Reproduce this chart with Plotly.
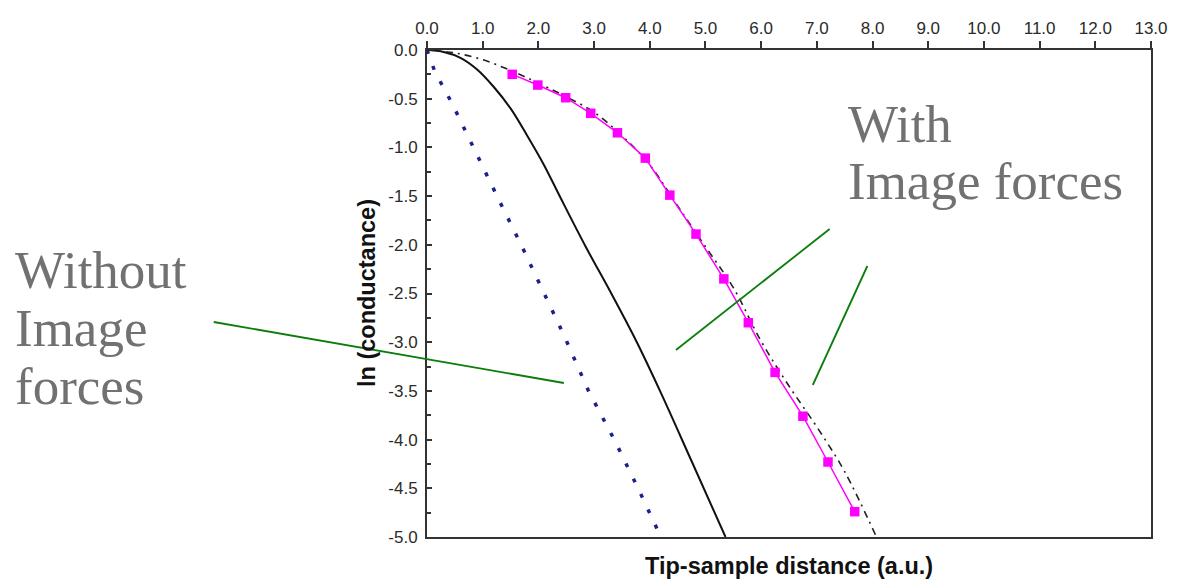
import plotly.graph_objects as go

# Tunnelling conductance versus tip-sample distance
# Without image forces (dotted navy line)
x_without = [0.0, 0.14, 0.46, 0.91, 1.30, 1.69, 2.07, 2.46, 2.90, 3.38, 3.79, 4.20]
y_without = [0.0, -0.22, -0.56, -1.10, -1.55, -2.00, -2.46, -2.93, -3.50, -4.02, -4.50, -5.00]

# Reference curve (solid black)
x_solid = [0.0, 0.3, 0.6, 0.9, 1.2, 1.5, 1.8, 2.1, 2.4, 2.85, 3.3, 3.75, 4.2, 4.75, 5.36]
y_solid = [0.0, -0.02, -0.08, -0.20, -0.38, -0.60, -0.88, -1.18, -1.52, -2.02, -2.49, -2.98,
           -3.52, -4.22, -5.00]

# With image forces, analytic approximation (dash-dot black)
x_dashdot = [0.0, 0.5, 1.0, 1.5, 2.0, 2.5, 3.0, 3.5, 4.0, 4.5, 5.0, 5.5, 6.0, 6.5, 7.0, 7.5, 8.07]
y_dashdot = [0.0, -0.03, -0.10, -0.21, -0.34, -0.48, -0.64, -0.88, -1.18, -1.60, -2.02, -2.44,
             -2.99, -3.45, -3.87, -4.33, -5.00]

# With image forces, computed points (magenta squares)
x_points = [1.53, 1.99, 2.49, 2.94, 3.42, 3.92, 4.36, 4.83, 5.33, 5.77, 6.25, 6.75, 7.20, 7.68]
y_points = [-0.25, -0.36, -0.49, -0.65, -0.85, -1.11, -1.49, -1.89, -2.35, -2.80, -3.31, -3.76,
            -4.23, -4.74]

# Tick labels
x_tickvals = [0, 1, 2, 3, 4, 5, 6, 7, 8, 9, 10, 11, 12, 13]
x_ticktext = ["0.0", "1.0", "2.0", "3.0", "4.0", "5.0", "6.0", "7.0", "8.0", "9.0",
              "10.0", "11.0", "12.0", "13.0"]
y_tickvals = [0, -0.5, -1, -1.5, -2, -2.5, -3, -3.5, -4, -4.5, -5]
y_ticktext = ["0.0", "-0.5", "-1.0", "-1.5", "-2.0", "-2.5", "-3.0", "-3.5", "-4.0", "-4.5", "-5.0"]

fig = go.Figure()

fig.add_trace(go.Scatter(x=x_without, y=y_without, mode="lines",
                         line=dict(color="#1c2088", width=3.5, dash="4px,13px")))
fig.add_trace(go.Scatter(x=x_solid, y=y_solid, mode="lines", line_shape="spline",
                         line=dict(color="#111111", width=2)))
fig.add_trace(go.Scatter(x=x_dashdot, y=y_dashdot, mode="lines", line_shape="spline",
                         line=dict(color="#222222", width=1.6, dash="7px,5px,2px,5px")))
fig.add_trace(go.Scatter(x=x_points, y=y_points, mode="lines+markers",
                         line=dict(color="#ff00ff", width=1.5),
                         marker=dict(symbol="square", size=9.5, color="#ff00ff")))

axis_font = dict(family="Liberation Sans, Arial, sans-serif", size=17, color="#2a2a2a")
title_font = dict(family="Liberation Sans, Arial, sans-serif", size=23.5, color="#111111")

fig.update_xaxes(range=[0, 13], side="top", tickmode="array", tickvals=x_tickvals,
                 ticktext=x_ticktext, ticks="outside", ticklen=7, tickwidth=2,
                 tickcolor="#333333", showline=True, linecolor="#333333", linewidth=2,
                 mirror=True, showgrid=False, zeroline=False, tickfont=axis_font)
fig.update_yaxes(range=[-5, 0], tickmode="array", tickvals=y_tickvals, ticktext=y_ticktext,
                 ticks="inside", ticklen=5, tickwidth=2, tickcolor="#333333",
                 minor=dict(tickmode="linear", tick0=0, dtick=0.25, ticks="inside",
                            ticklen=4, tickwidth=1.5, tickcolor="#333333"),
                 showline=True, linecolor="#333333", linewidth=2, mirror=True,
                 showgrid=False, zeroline=False, tickfont=axis_font, ticklabelstandoff=4)

L, R, T, B = 427, 23, 50, 44
W, H = 1180, 581
PW, PH = W - L - R, H - T - B


def px(xp):
    return (xp - L) / PW


def py(yp):
    return (H - B - yp) / PH


# Axis titles
annotations = [
    dict(text="<b>Tip-sample distance (a.u.)</b>", x=0.5, y=py(566), xref="paper", yref="paper",
         showarrow=False, font=title_font, xanchor="center", yanchor="middle"),
    dict(text="<b>ln (conductance)</b>", x=px(366), y=0.5, xref="paper", yref="paper",
         showarrow=False, font=title_font, textangle=-90, xanchor="center", yanchor="middle"),
]

# Callout labels
label_font = dict(family="Liberation Serif, Times New Roman, serif", size=53, color="#717171")
for text, xp, yp in [("Without", 10, 270), ("Image", 10, 328), ("forces", 10, 386),
                     ("With", 849, 124), ("Image forces", 849, 181)]:
    annotations.append(dict(text=text, x=px(xp), y=py(yp), xref="paper", yref="paper",
                            showarrow=False, font=label_font, xanchor="left", yanchor="middle"))

# Pointer lines for the callouts
shapes = []
for (x0, y0, x1, y1) in [(212, 322, 565, 383), (678, 350, 833, 229), (871, 266, 816, 385)]:
    shapes.append(dict(type="line", xref="paper", yref="paper", x0=px(x0), y0=py(y0),
                       x1=px(x1), y1=py(y1), line=dict(color="#0a7d0a", width=1.8)))

fig.update_layout(width=W, height=H, margin=dict(l=L, r=R, t=T, b=B),
                  paper_bgcolor="white", plot_bgcolor="white", showlegend=False,
                  annotations=annotations, shapes=shapes)

fig.write_html("out.html")
